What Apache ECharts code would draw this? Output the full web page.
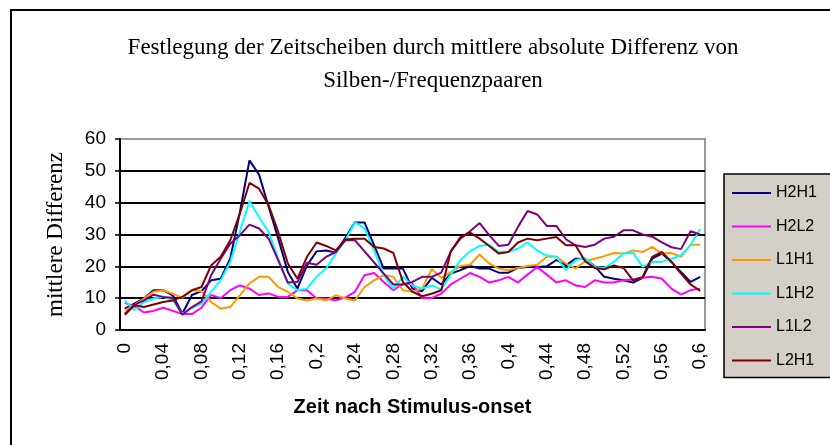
<!DOCTYPE html>
<html>
  <head>
    <meta charset="utf-8">
    <title>ECharts</title>
    <style type="text/css">
    html,body{margin:0;padding:0;background:#fff;}
    #chart{width:830px;height:445px;}
    </style>
    <script src="https://cdn.jsdelivr.net/npm/echarts@6/dist/echarts.min.js"></script>
  </head>
  <body>
    <div id="chart"></div>
    <script type="text/javascript">
      // Zeitachse (Sekunden, mit Komma)
      var zeit = ['0','0,01','0,02','0,03','0,04','0,05','0,06','0,07','0,08','0,09',
        '0,1','0,11','0,12','0,13','0,14','0,15','0,16','0,17','0,18','0,19',
        '0,2','0,21','0,22','0,23','0,24','0,25','0,26','0,27','0,28','0,29',
        '0,3','0,31','0,32','0,33','0,34','0,35','0,36','0,37','0,38','0,39',
        '0,4','0,41','0,42','0,43','0,44','0,45','0,46','0,47','0,48','0,49',
        '0,5','0,51','0,52','0,53','0,54','0,55','0,56','0,57','0,58','0,59','0,6'];

      var yTicks = [0, 10, 20, 30, 40, 50, 60];

      var h2h1 = [6.7,8.3,9.9,12.5,12.5,10.9,5.1,11,12.2,15.6,
        16.1,22.5,37,53.3,48.8,38.7,28.7,18.2,13,20.3,
        24.7,25,24.3,29,33.8,33.8,26.6,19.3,19.3,19.3,
        13,12.2,16.4,14.3,17.7,18.8,20.1,19.3,19.3,18,
        18,19.5,19.8,19.8,20,22,20.3,22.4,22.4,20,
        16.7,16.1,15.6,14.9,16.4,22.4,24,21.4,18.2,15.1,16.7];
      var h2l2 = [8.5,7.5,5.5,6,7,6,5,5,7,11,
        10,12.5,14,13,11,11.5,10.4,10.4,12.5,12.5,
        9.9,9.9,9.3,10.2,12,17.2,17.9,15.1,12.5,14.5,
        14.5,10,10,11.4,14.3,16.1,17.9,16.7,14.9,15.6,
        16.7,14.9,17.4,19.8,17.4,14.9,15.6,14,13.5,15.6,
        14.9,14.9,15.6,15.9,16.4,16.7,16.1,13,11.1,12.5,13];
      var l1h1 = [6.2,7.8,9.9,12,12.5,11.4,10.1,12.5,12.2,8.8,
        6.7,7.2,10.9,14.6,16.7,16.7,13.5,12,9.9,9.3,
        9.9,9.3,10.9,9.9,9.3,13.5,15.6,17.2,16.7,12.5,
        12,13,19.1,16.4,18.2,20.1,20.5,23.7,20.9,19.3,
        18.8,19.5,20.1,20.5,23,23,20.9,19.3,21.6,22.4,
        23.2,24.2,24,25,24.5,26.1,24,24.2,23,26.8,26.8];
      var l1h2 = [9.3,6.2,8.8,9.9,10.4,9.3,5.1,6.9,8.3,12,
        15.6,21.4,30.8,40.5,35.5,30.8,22.4,14.6,12.5,13,
        16.7,19.3,24,28.2,33.8,31.9,25,17.2,13,16.7,
        14,13,14,12.7,17.4,21.9,24.7,26.4,26.8,24.5,
        24.5,25.6,27.5,25,23.3,23,18.8,21.9,22.6,19.8,
        19.5,21.4,24,24.3,19.8,21.4,21.4,22.4,23.5,26.6,31.7];
      var l1l2 = [5.1,7.8,9.3,11.1,10.4,10.1,4.8,7.2,9,17.2,
        22.4,27.1,29.8,33.1,31.9,28.7,21.9,14.9,15.1,21.1,
        20.5,23,24.5,28.2,28.2,24.7,21.2,17.7,14.3,14.3,
        15.1,16.7,16.7,18,24.7,28.7,31,33.6,29.8,26.4,
        26.8,32.4,37.4,36.3,32.7,32.7,28.5,26.6,26.1,26.8,
        28.7,29.3,31.3,31.3,30,29.3,27.5,26,25.4,31,30];
      var l2h1 = [4.8,7.8,7.2,8,8.8,9.3,10.4,12.5,13.5,20.3,
        23,28.2,36.6,46.2,44.4,39.2,30.8,20.9,16.1,23,
        27.5,26.4,25,28.4,28.7,28.7,26.1,25.6,24.2,15.1,
        12,10.6,11.4,12.5,24.7,29.2,30.6,28.7,26.4,24,
        24.5,27.5,28.7,28.2,28.7,29.2,26.6,26.6,21.6,19.5,
        19.1,20.3,19.5,15.6,16.7,23,24.5,21.4,17.7,14.3,12.3];

      var namen = ['H2H1', 'H2L2', 'L1H1', 'L1H2', 'L1L2', 'L2H1'];
      var farben = ['#000080', '#ff00ff', '#ff9900', '#00ffff', '#800080', '#800000'];
      var werte = [h2h1, h2l2, l1h1, l1h2, l1l2, l2h1];

      var serien = [];
      for (var i = 0; i < namen.length; i++) {
        serien.push({
          name: namen[i],
          type: 'line',
          symbol: 'none',
          smooth: false,
          lineStyle: { width: 2, color: farben[i] },
          itemStyle: { color: farben[i] },
          data: werte[i]
        });
      }

      var myChart = echarts.init(document.getElementById('chart'));
      var option = {
        backgroundColor: '#fff',
        animation: false,
        title: {
          text: 'Festlegung der Zeitscheiben durch mittlere absolute Differenz von\nSilben-/Frequenzpaaren',
          left: 428,
          top: 26,
          textAlign: 'center',
          textStyle: {
            fontFamily: 'Liberation Serif',
            fontWeight: 'normal',
            fontSize: 23,
            lineHeight: 33,
            color: '#000'
          }
        },
        legend: {
          orient: 'vertical',
          left: 724,
          top: 174,
          data: namen,
          icon: 'rect',
          backgroundColor: '#d4d0c8',
          borderColor: '#000',
          borderWidth: 1.5,
          padding: [11, 40, 9, 8],
          itemWidth: 39,
          itemHeight: 2,
          itemGap: 17.5,
          textStyle: { fontFamily: 'Liberation Sans', fontSize: 16, color: '#000' }
        },
        grid: {
          left: 120,
          top: 139,
          width: 585,
          height: 191,
          show: true,
          backgroundColor: '#fff',
          borderColor: '#999',
          borderWidth: 2
        },
        xAxis: {
          type: 'category',
          data: zeit,
          boundaryGap: true,
          name: 'Zeit nach Stimulus-onset',
          nameLocation: 'middle',
          nameGap: 67,
          nameTextStyle: { fontFamily: 'Liberation Sans', fontWeight: 'bold', fontSize: 20, color: '#000' },
          axisLine: { lineStyle: { color: '#000', width: 2 } },
          axisTick: { interval: 0, length: 6, lineStyle: { color: '#000', width: 1.5 } },
          axisLabel: { interval: 3, rotate: 90, margin: 13, fontFamily: 'Liberation Sans', fontSize: 19, color: '#000' },
          splitLine: { show: false }
        },
        yAxis: {
          type: 'value',
          min: 0,
          max: 60,
          interval: 10,
          name: 'mittlere Differenz',
          nameLocation: 'middle',
          nameGap: 53,
          nameTextStyle: { fontFamily: 'Liberation Serif', fontSize: 23, color: '#000' },
          axisLine: { show: true, lineStyle: { color: '#000', width: 2 } },
          axisTick: { show: true, length: 5, lineStyle: { color: '#000', width: 1.5 } },
          axisLabel: {
            margin: 14, fontFamily: 'Liberation Sans', fontSize: 19, color: '#000',
            formatter: function (v) { return yTicks.indexOf(v) >= 0 ? String(v) : ''; }
          },
          splitLine: { show: true, lineStyle: { color: ['#000', '#000', '#000', '#000', '#000', '#000', '#999'], width: 2 } }
        },
        graphic: [{
          type: 'rect',
          shape: { x: 11, y: 10, width: 840, height: 460 },
          style: { fill: 'none', stroke: '#000', lineWidth: 2 },
          silent: true,
          z: 100
        }],
        series: serien
      };
      myChart.setOption(option);
    </script>
  </body>
</html>
